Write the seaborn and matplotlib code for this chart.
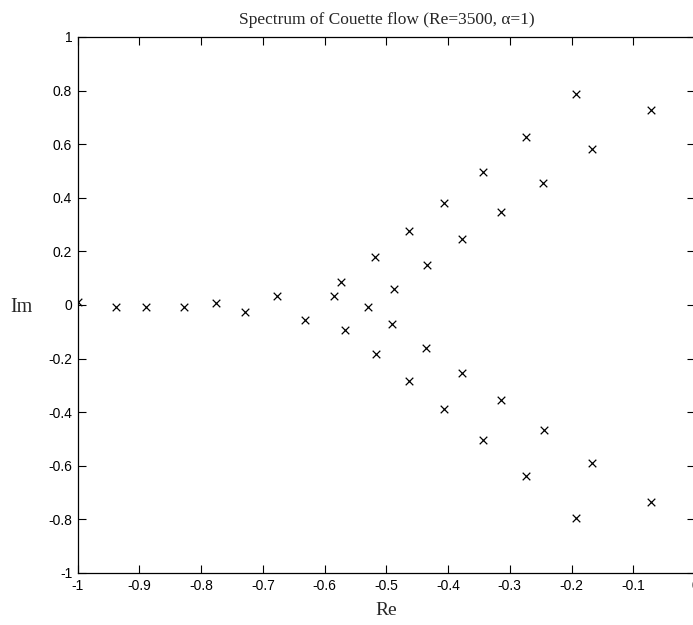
import numpy as np
import pandas as pd
import matplotlib
matplotlib.use("Agg")
import matplotlib.pyplot as plt
import seaborn as sns
from matplotlib.ticker import FuncFormatter, MultipleLocator

re_vals = [-1.000, -0.938, -0.889, -0.828, -0.776, -0.729, -0.677, -0.631,
           -0.584, -0.573, -0.567, -0.530, -0.488, -0.491,
           -0.519, -0.517, -0.464, -0.464, -0.406, -0.406, -0.343, -0.343,
           -0.274, -0.274, -0.193, -0.193,
           -0.434, -0.436, -0.377, -0.377, -0.314, -0.314, -0.246, -0.245,
           -0.167, -0.167, -0.071, -0.071]
im_vals = [0.010, -0.009, -0.006, -0.009, 0.009, -0.025, 0.034, -0.056,
           0.034, 0.086, -0.093, -0.006, 0.061, -0.071,
           0.179, -0.184, 0.276, -0.282, 0.382, -0.389, 0.497, -0.505,
           0.628, -0.637, 0.786, -0.794,
           0.150, -0.162, 0.248, -0.255, 0.348, -0.356, 0.456, -0.465,
           0.581, -0.591, 0.729, -0.735]

title = "Spectrum of Couette flow (Re=3500, \u03b1=1)"


def main():
    sns.set_style("ticks")
    plt.rcParams["font.family"] = ["Liberation Sans", "DejaVu Sans"]
    plt.rcParams["xtick.direction"] = "in"
    plt.rcParams["ytick.direction"] = "in"

    df = pd.DataFrame({"Re": re_vals, "Im": im_vals})

    fig = plt.figure(figsize=(6.93, 6.25), dpi=100)
    W, H = 693, 625
    # axes box in pixels: left 77.7, right 695 (just past the edge), top 37, bottom 573
    ax = fig.add_axes([77.7 / W, (H - 573) / H, (695 - 77.7) / W, (573 - 37) / H])

    sns.scatterplot(data=df, x="Re", y="Im", marker="x", color="black",
                    s=30, linewidth=0.9, ax=ax, legend=False)

    ax.set_xlim(-1, 0)
    ax.set_ylim(-1, 1)
    ax.xaxis.set_major_locator(MultipleLocator(0.1))
    ax.yaxis.set_major_locator(MultipleLocator(0.2))
    fmt = FuncFormatter(lambda v, p: f"{round(v, 2):g}" if abs(v) > 1e-9 else "0")
    ax.xaxis.set_major_formatter(fmt)
    ax.yaxis.set_major_formatter(fmt)
    ax.tick_params(axis="both", which="major", length=6, width=0.8,
                   labelsize=10, top=True, right=True, color="black",
                   labelcolor="black", pad=4)
    for s in ax.spines.values():
        s.set_visible(True)
        s.set_color("black")
        s.set_linewidth(0.9)

    serif = ["Liberation Serif", "DejaVu Serif"]
    ax.set_title(title, family=serif, fontsize=12.5, pad=9)
    ax.set_xlabel("Re", family=serif, fontsize=14, labelpad=7)
    ax.set_ylabel("Im", family=serif, fontsize=14.5, rotation=0,
                  ha="right", va="center")
    ax.yaxis.set_label_coords(-0.0725, 0.496)

    fig.savefig("out.png", dpi=100)
    plt.close(fig)


if __name__ == "__main__":
    main()
